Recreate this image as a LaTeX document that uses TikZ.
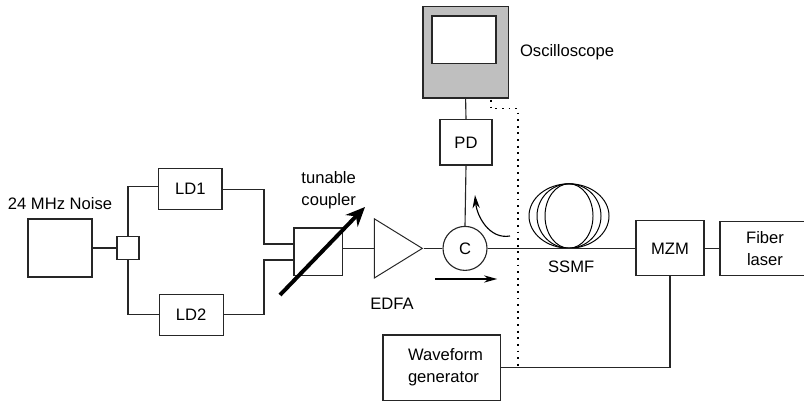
\documentclass[tikz,border=0pt]{standalone}
\usepackage{fontspec}
\setmainfont{Liberation Sans}
\usetikzlibrary{positioning,arrows.meta,shapes.geometric}
\tikzset{
  every node/.style={font=\fontsize{11.8}{15.5}\selectfont},
  wire/.style={line width=.8pt, draw=black!85},
  box/.style={draw=black!85, line width=.8pt, inner sep=0pt, align=center},
  txt/.style={inner sep=0pt, align=left},
  coil/.style={draw, ellipse, line width=.7pt, minimum height=1.61cm, inner sep=0pt},
  sense/.style={line width=.8pt, -{Stealth[length=.33cm,width=.18cm]}}
}
\begin{document}
\begin{tikzpicture}
        \useasboundingbox (0,0) rectangle (20.1,10.05);
        % sources
        \node[box, minimum width=1.6cm, minimum height=1.45cm](noise) at (1.5,3.85){};
        \node[box, minimum width=.55cm, minimum height=.58cm](split) at (3.2,3.85){};
        \node[box, minimum width=1.58cm, minimum height=1.03cm](ld1) at (4.76,5.32){LD1};
        \node[box, minimum width=1.6cm, minimum height=1.03cm](ld2) at (4.78,2.18){LD2};
        \node[box, minimum width=1.22cm, minimum height=1.18cm](coupler) at (7.96,3.76){};
        % amplifier and circulator
        \node[draw=black!85, line width=.7pt, isosceles triangle, isosceles triangle stretches, inner sep=0pt,
              minimum width=1.48cm, minimum height=1.2cm, anchor=apex](edfa) at (10.59,3.84){};
        \node[draw=black!85, circle, line width=.8pt, minimum size=1.1cm, inner sep=0pt](c) at (11.625,3.84){C};
        \node[box, minimum width=1.3cm, minimum height=1.13cm](pd) at (11.65,6.49){PD};
        \node[box, fill=black!25, minimum width=2.13cm, minimum height=2.28cm](scope) at (11.64,8.74){};
        \node[box, fill=white, minimum width=1.6cm, minimum height=1.18cm](screen) at (11.6,9.06){};
        % fiber span
        \node[coil, minimum width=2cm](coil1) at (14.225,4.65){};
        \node[coil, minimum width=1.6cm](coil2) at (14.225,4.65){};
        \node[coil, minimum width=1.2cm](coil3) at (14.225,4.65){};
        \node[box, minimum width=1.7cm, minimum height=1.375cm](mzm) at (16.75,3.84){MZM};
        \node[box, minimum width=2.25cm, minimum height=1.35cm](laser) at (19.125,3.84){Fiber\\laser};
        \node[box, inner xsep=.625cm, text width=1.68cm, align=left, minimum height=1.63cm](wave) at (11.04,.86){Waveform\\generator};
        % labels
        \node[txt, above=.22cm of noise](noiselabel){24 MHz Noise};
        \node[txt, anchor=west](couplerlabel) at (7.53,5.3){tunable\\coupler};
        \node[txt](edfalabel) at (9.8,2.45){EDFA};
        \node[txt](ssmflabel) at (14.28,3.39){SSMF};
        \node[txt, right=.275cm of scope](scopelabel){Oscilloscope};
        % free ends
        \coordinate (in1) at (6.6,3.95);
        \coordinate (in2) at (6.6,3.55);
        \coordinate (tunea) at (7,2.675);
        \coordinate (tuneb) at (9.125,4.875);
        \coordinate (backa) at (12.75,4.15);
        \coordinate (backb) at (11.875,5.175);
        \coordinate (fwda) at (10.875,3.075);
        \coordinate (fwdb) at (12.43,3.075);
        \coordinate (dota) at (12.275,7.55);
        \coordinate (dotb) at (12.95,7.33);
        % connectors
        \draw[wire] (noise.east)--(split.west);
        \draw[wire] (split.north) |- ([yshift=.07cm]ld1.west);
        \draw[wire] (split.south) |- (ld2.west);
        \draw[wire] (ld1.east) -| (in1)--(in1 -| coupler.west);
        \draw[wire] (ld2.east) -| (in2)--(in2 -| coupler.west);
        \draw[wire] (coupler.east |- edfa.west)--(edfa.west);
        \draw[wire] (edfa.apex)--(c.west);
        \draw[wire] (c.east)--(mzm.west);
        \draw[wire] (c.north)--(pd.south);
        \draw[wire] (pd.north)--(scope.south);
        \draw[wire] (mzm.east)--(laser.west);
        \draw[wire] (wave.east) -| (mzm.south);
        \draw[line width=.9pt, dash pattern=on 1.3pt off 3.4pt] (dota) |- (dotb)--(dotb |- wave.east);
        \draw[line width=2.8pt, -{Stealth[length=.48cm,width=.42cm]}] (tunea)--(tuneb);
        \draw[sense] (backa) to[out=190,in=-85] (backb);
        \draw[sense] (fwda)--(fwdb);
\end{tikzpicture}
\end{document}
